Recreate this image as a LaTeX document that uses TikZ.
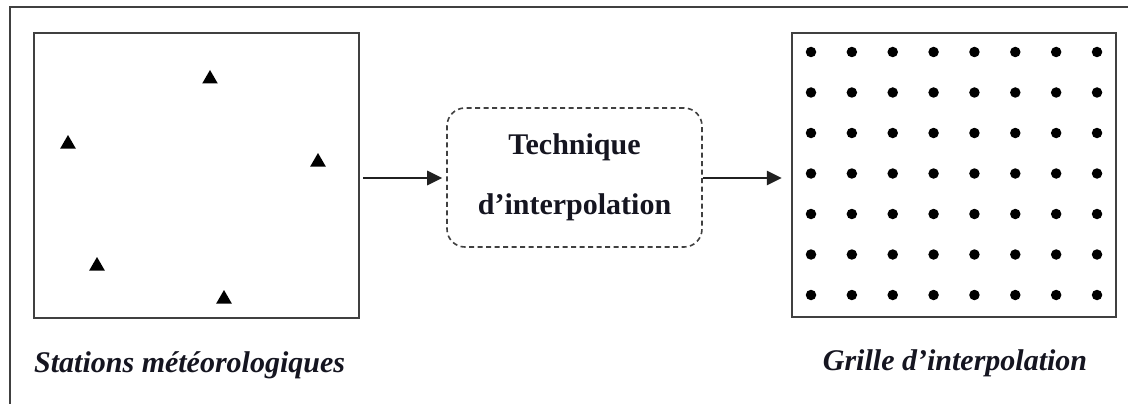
\documentclass[tikz,border=0pt]{standalone}
\usepackage{fontspec}
\setmainfont{Liberation Serif}
\usetikzlibrary{arrows.meta,shapes.geometric}
\definecolor{linegray}{HTML}{404040}
\definecolor{arrowc}{HTML}{202020}
\definecolor{inkc}{HTML}{151520}
\tikzset{
  panel/.style={draw=linegray,line width=2.4pt,minimum width=325pt,minimum height=285pt,inner sep=0pt},
  procbox/.style={draw=linegray,line width=1.6pt,dash pattern=on 5pt off 3.5pt,rounded corners=18pt,
    minimum width=255pt,minimum height=139pt,align=center,inner sep=0pt,
    font=\fontsize{30}{60}\selectfont\bfseries,text=inkc},
  station/.style={regular polygon,regular polygon sides=3,fill=black,minimum size=18pt,inner sep=0pt},
  gridpt/.style={circle,fill=black,minimum size=10.5pt,inner sep=0pt},
  flow/.style={line width=2.8pt,draw=arrowc,-{Triangle[length=15pt,width=14pt]}},
  caption/.style={font=\fontsize{30}{36}\selectfont\bfseries\itshape,text=inkc,inner sep=0pt}
}
\begin{document}
\begin{tikzpicture}[x=1pt,y=-1pt]
\useasboundingbox (0,0) rectangle (1128,404);
\fill[white] (0,0) rectangle (1128,404);
\draw[linegray,line width=1.6pt] (10,404) -- (10,7) -- (1128,7);
% left panel
\node[panel] (left) at (196.5,175.5) {};
\node[station] (s1) at (210,79) {};
\node[station] (s2) at (68,144) {};
\node[station] (s3) at (318,162) {};
\node[station] (s4) at (97,266) {};
\node[station] (s5) at (224,299) {};
% process
\node[procbox] (proc) at (574.5,177.5) {Technique\\d’interpolation};
% right panel
\node[panel,minimum width=324pt,minimum height=284pt] (right) at (954,175) {};
\foreach \i in {0,...,7}{
  \foreach \j in {0,...,6}{
    \node[gridpt] (g-\i-\j) at ({811+40.86*\i},{52+40.5*\j}) {};
  }
}
% arrows
\draw[flow,shorten <=3pt,shorten >=4pt] (left.east |- 0,178) -- (proc.west |- 0,178);
\draw[flow,shorten >=9pt] (proc.east |- 0,178) -- (right.west |- 0,178);
% captions
\node[caption,anchor=west] (capL) at (34,365) {Stations météorologiques};
\node[caption] (capR) at (955,363) {Grille d’interpolation};
\end{tikzpicture}
\end{document}
